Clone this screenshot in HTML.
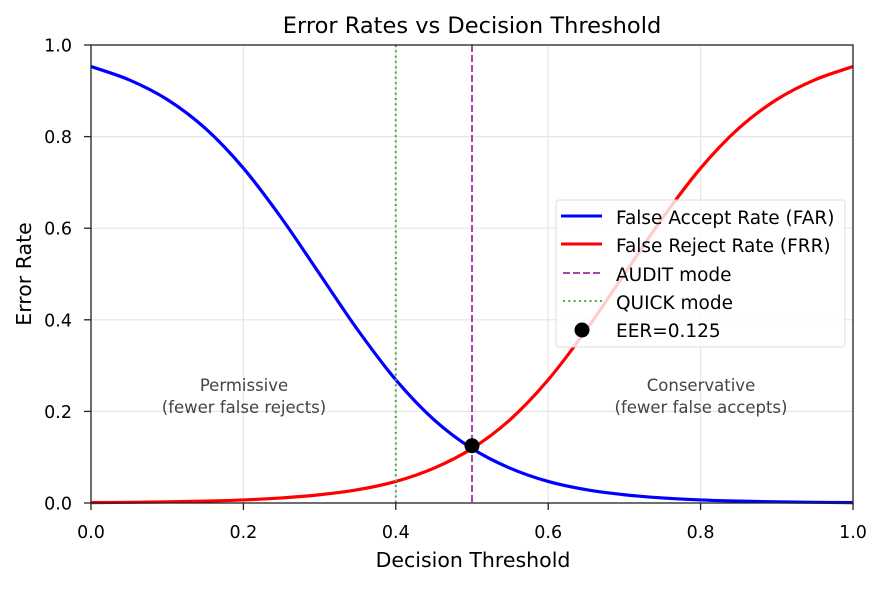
<!DOCTYPE html>
<html><head><meta charset="utf-8"><style>
body{margin:0;background:#fff}
svg text{font-family:"DejaVu Sans","Liberation Sans",sans-serif}
</style></head><body>
<svg id="chart" width="883" height="585" viewBox="0 0 883 585">
<rect width="883" height="585" fill="#fff"/>
<g id="grid"></g>
<g id="lines"></g>
<g id="axes"></g>
<text x="472" y="33" text-anchor="middle" font-size="22.5" fill="#000">Error Rates vs Decision Threshold</text>
<text x="473" y="567" text-anchor="middle" font-size="20.5" fill="#000">Decision Threshold</text>
<text x="31" y="274" text-anchor="middle" font-size="20.5" fill="#000" transform="rotate(-90 31 274)">Error Rate</text>
<g font-size="16.5" fill="#444" text-anchor="middle">
<text x="244" y="391">Permissive</text>
<text x="244" y="413">(fewer false rejects)</text>
<text x="701" y="391">Conservative</text>
<text x="701" y="413">(fewer false accepts)</text>
</g>
<g>
<rect x="556" y="200" width="289" height="147" rx="3" fill="#fff" fill-opacity="0.8" stroke="#ddd"/>
<line x1="561" y1="216" x2="602" y2="216" stroke="#0000ff" stroke-width="3"/>
<text x="616" y="224" font-size="18.5">False Accept Rate (FAR)</text>
<line x1="561" y1="244" x2="602" y2="244" stroke="#ff0000" stroke-width="3"/>
<text x="616" y="252" font-size="18.5">False Reject Rate (FRR)</text>
<line x1="563" y1="273" x2="602" y2="273" stroke="#aa44aa" stroke-width="2" stroke-dasharray="7,3"/>
<text x="616" y="281" font-size="18.5">AUDIT mode</text>
<line x1="563" y1="301" x2="602" y2="301" stroke="#44aa44" stroke-width="2" stroke-dasharray="2,3.3"/>
<text x="616" y="309" font-size="18.5">QUICK mode</text>
<circle cx="582" cy="330" r="7.5" fill="#000"/>
<text x="616" y="337" font-size="18.5">EER=0.125</text>
</g>
</svg>
<script>
const thresholds=[0,0.05,0.1,0.15,0.2,0.25,0.3,0.35,0.4,0.45,0.5,0.55,0.6,0.65,0.7,0.75,0.8,0.85,0.9,0.95,1.0];
const farValues=[0.953,0.924,0.881,0.818,0.731,0.622,0.5,0.378,0.269,0.182,0.119,0.076,0.047,0.029,0.018,0.011,0.0067,0.0041,0.0025,0.0015,0.0009];
const frrValues=[0.0009,0.0015,0.0025,0.0041,0.0067,0.011,0.018,0.029,0.047,0.076,0.119,0.182,0.269,0.378,0.5,0.622,0.731,0.818,0.881,0.924,0.953];
const xTicks=[0,0.2,0.4,0.6,0.8,1.0];
const yTicks=[0,0.2,0.4,0.6,0.8,1.0];
const xTickLabels=["0.0","0.2","0.4","0.6","0.8","1.0"];
const yTickLabels=["0.0","0.2","0.4","0.6","0.8","1.0"];
const auditThreshold=0.5, quickThreshold=0.4;
const eerPoint=[0.5,0.125];
const L=91,R=853,T=45,B=503,NS="http://www.w3.org/2000/svg";
const xs=v=>L+(R-L)*v, ys=v=>B-(B-T)*v;
function mk(parent,tag,attrs){const e=document.createElementNS(NS,tag);for(const k in attrs)e.setAttribute(k,attrs[k]);document.getElementById(parent).appendChild(e);return e;}
xTicks.forEach((t,i)=>{
 const g=mk('grid','line',{x1:xs(t),x2:xs(t),y1:T,y2:B,stroke:'#e6e6e6','stroke-width':1.2});
 
 
 const tk=mk('axes','line',{x1:xs(t),x2:xs(t),y1:B,y2:B+7,stroke:'#222','stroke-width':1.3});
 
 
 const tx=mk('axes','text',{x:xs(t),y:538,'text-anchor':'middle','font-size':17.5});
 tx.textContent=xTickLabels[i];
 
 
});
yTicks.forEach((t,i)=>{
 const g=mk('grid','line',{x1:L,x2:R,y1:ys(t),y2:ys(t),stroke:'#e6e6e6','stroke-width':1.2});
 
 
 const tk=mk('axes','line',{x1:L-7,x2:L,y1:ys(t),y2:ys(t),stroke:'#222','stroke-width':1.3});
 
 
 const tx=mk('axes','text',{x:72,y:ys(t)+6.5,'text-anchor':'end','font-size':17.5});
 tx.textContent=yTickLabels[i];
 
 
});
const frame=mk('axes','rect',{x:L,y:T,width:R-L,height:B-T,fill:'none',stroke:'#222','stroke-width':1.3});


function smooth(xv,yv){
 const p=xv.map((x,i)=>[xs(x),ys(yv[i])]);
 let d=`M${p[0][0]},${p[0][1]}`;
 for(let i=0;i<p.length-1;i++){
  const p0=p[Math.max(0,i-1)],p1=p[i],p2=p[i+1],p3=p[Math.min(p.length-1,i+2)];
  const c1=[p1[0]+(p2[0]-p0[0])/6,p1[1]+(p2[1]-p0[1])/6];
  const c2=[p2[0]-(p3[0]-p1[0])/6,p2[1]-(p3[1]-p1[1])/6];
  d+=`C${c1[0]},${c1[1]} ${c2[0]},${c2[1]} ${p2[0]},${p2[1]}`;
 }
 return d;
}
const far=mk('lines','path',{d:smooth(thresholds,farValues),fill:'none',stroke:'#0000ff','stroke-width':3.2});


const frr=mk('lines','path',{d:smooth(thresholds,frrValues),fill:'none',stroke:'#ff0000','stroke-width':3.2});


const q=mk('lines','line',{x1:xs(quickThreshold),x2:xs(quickThreshold),y1:T,y2:B,stroke:'#44aa44','stroke-width':2,'stroke-dasharray':'2,3.3'});


const a=mk('lines','line',{x1:xs(auditThreshold),x2:xs(auditThreshold),y1:T,y2:B,stroke:'#aa44aa','stroke-width':2,'stroke-dasharray':'7,3'});


const e=mk('lines','circle',{cx:xs(eerPoint[0]),cy:ys(eerPoint[1]),r:7.5,fill:'#000'});


</script>
</body></html>
